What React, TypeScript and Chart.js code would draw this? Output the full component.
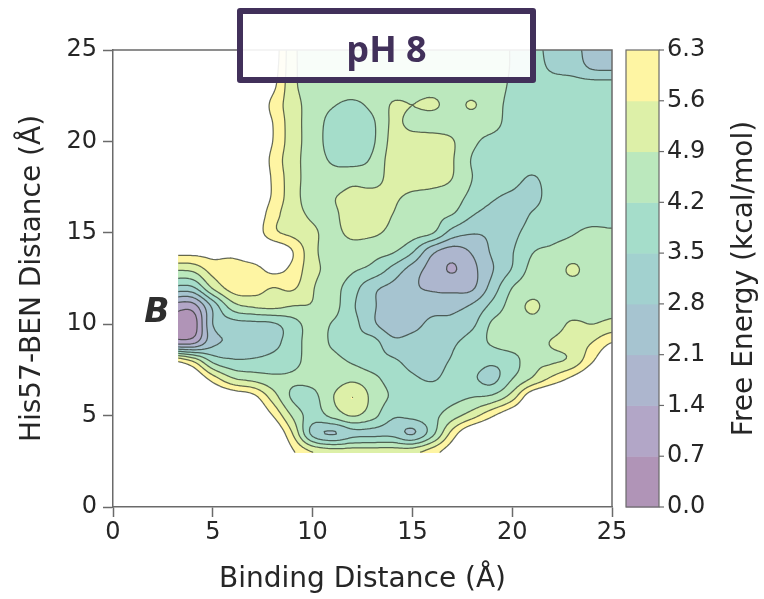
import { useEffect, useRef } from "react";
import { Chart, registerables } from "chart.js";

Chart.register(...registerables);

// Free-energy surface (kcal/mol) on a 1 Å grid. Rows run from y = 25 Å down to y = 3 Å,
// columns from x = 3 Å to x = 25 Å. Values above 6.3 are unsampled / off-scale.
const xNodes = [3, 4, 5, 6, 7, 8, 9, 10, 11, 12, 13, 14, 15, 16, 17, 18, 19, 20, 21, 22, 23, 24, 25];
const yNodes = [25, 24, 23, 22, 21, 20, 19, 18, 17, 16, 15, 14, 13, 12, 11, 10, 9, 8, 7, 6, 5, 4, 3];
const energyRows: number[][] = [
  [7.2, 7.2, 7.2, 7.2, 7.2, 6.8, 5.1, 4.6, 4.5, 4.5, 4.6, 4.6, 4.6, 4.6, 4.5, 4.5, 4.5, 4.15, 3.75, 3.3, 3.0, 2.6, 2.5],
  [7.2, 7.2, 7.2, 7.2, 7.2, 6.7, 5.1, 4.6, 4.5, 4.5, 4.55, 4.6, 4.6, 4.6, 4.55, 4.5, 4.5, 4.15, 3.85, 3.4, 3.2, 2.75, 2.7],
  [7.2, 7.2, 7.2, 7.2, 7.2, 6.5, 5.1, 4.6, 4.5, 4.45, 4.5, 4.6, 4.6, 4.65, 4.6, 4.55, 4.5, 4.1, 4.0, 3.9, 3.9, 3.9, 3.9],
  [7.2, 7.2, 7.2, 7.2, 7.2, 6.1, 5.2, 4.6, 4.25, 4.1, 4.35, 4.95, 4.9, 5.0, 4.7, 4.95, 4.5, 4.0, 3.95, 3.95, 3.95, 3.95, 3.95],
  [7.2, 7.2, 7.2, 7.2, 7.2, 6.3, 5.2, 4.6, 3.95, 3.85, 4.1, 5.0, 4.7, 4.6, 4.6, 4.55, 4.45, 3.9, 3.85, 3.85, 3.9, 3.9, 3.9],
  [7.2, 7.2, 7.2, 7.2, 7.2, 6.3, 5.2, 4.6, 3.9, 3.85, 4.1, 5.1, 5.2, 5.2, 4.95, 4.35, 4.0, 3.85, 3.8, 3.85, 3.9, 3.9, 3.9],
  [7.2, 7.2, 7.2, 7.2, 7.2, 6.1, 5.15, 4.6, 4.1, 3.95, 4.3, 5.2, 5.3, 5.3, 4.95, 4.15, 3.9, 3.8, 3.8, 3.85, 3.9, 3.9, 3.9],
  [7.2, 7.2, 7.2, 7.2, 7.2, 6.2, 5.2, 4.6, 4.5, 4.7, 4.6, 5.15, 5.2, 5.15, 4.9, 4.2, 3.85, 3.7, 3.45, 3.75, 3.85, 3.9, 3.9],
  [7.2, 7.2, 7.2, 7.2, 7.2, 6.2, 5.2, 4.6, 4.85, 5.05, 5.1, 5.0, 4.8, 4.7, 4.55, 4.0, 3.6, 3.4, 3.3, 3.75, 3.8, 3.85, 3.85],
  [7.2, 7.2, 7.2, 7.2, 7.0, 5.9, 5.2, 4.8, 4.8, 5.15, 5.1, 4.9, 4.6, 4.4, 4.2, 3.55, 3.25, 3.15, 3.55, 3.8, 3.9, 3.9, 3.9],
  [7.2, 7.2, 7.2, 7.2, 6.9, 5.8, 5.4, 5.0, 4.75, 5.05, 5.0, 4.75, 4.5, 4.25, 3.2, 2.85, 2.95, 3.3, 3.8, 4.0, 4.15, 4.35, 4.3],
  [6.6, 6.6, 6.6, 6.6, 7.0, 7.0, 6.3, 5.1, 4.6, 4.6, 4.45, 4.3, 3.6, 2.3, 1.8, 2.2, 2.9, 3.45, 4.15, 4.3, 4.5, 4.6, 4.6],
  [5.0, 5.1, 5.9, 5.9, 6.0, 6.5, 6.1, 5.1, 4.7, 4.3, 4.0, 3.3, 2.5, 1.8, 1.35, 1.9, 2.75, 3.55, 4.4, 4.5, 5.0, 4.6, 4.6],
  [3.3, 3.4, 5.0, 5.9, 5.9, 5.6, 5.7, 4.95, 4.5, 3.8, 3.0, 2.6, 2.2, 2.0, 1.9, 2.0, 3.1, 4.2, 4.6, 4.6, 4.6, 4.7, 4.8],
  [1.1, 1.1, 3.0, 4.6, 5.0, 5.1, 4.9, 4.85, 4.5, 3.6, 2.95, 2.2, 2.45, 2.55, 2.6, 2.9, 3.7, 4.5, 5.0, 4.6, 4.5, 4.6, 4.7],
  [0.5, 0.3, 2.8, 3.2, 3.3, 3.4, 3.9, 4.5, 4.15, 3.75, 2.95, 2.4, 2.6, 2.95, 3.0, 3.35, 4.3, 4.5, 4.7, 4.6, 5.0, 4.9, 5.1],
  [1.1, 1.2, 2.6, 2.9, 3.1, 3.3, 3.85, 4.5, 4.1, 3.7, 3.75, 3.0, 3.05, 3.2, 3.4, 3.8, 4.3, 4.6, 4.6, 4.95, 5.2, 5.6, 6.3],
  [6.3, 5.5, 4.0, 3.6, 3.6, 3.75, 4.0, 4.45, 4.4, 4.1, 3.8, 3.6, 3.3, 3.3, 3.55, 3.8, 3.65, 3.9, 4.7, 4.8, 5.1, 6.2, 7.2],
  [7.5, 7.2, 6.0, 5.0, 4.7, 4.4, 4.3, 4.4, 4.5, 4.75, 4.4, 3.9, 3.6, 3.45, 3.7, 3.6, 3.3, 4.2, 5.0, 5.8, 6.5, 7.2, 7.5],
  [7.5, 7.5, 7.3, 7.0, 6.6, 5.3, 4.1, 4.0, 4.85, 5.6, 4.7, 4.1, 3.9, 3.9, 4.0, 4.2, 4.4, 5.3, 7.0, 7.5, 7.5, 7.5, 7.5],
  [7.5, 7.5, 7.5, 7.5, 7.3, 6.3, 4.8, 3.9, 4.4, 4.95, 4.45, 3.6, 3.7, 4.0, 4.6, 5.3, 6.2, 7.0, 7.5, 7.5, 7.5, 7.5, 7.5],
  [7.5, 7.5, 7.5, 7.5, 7.5, 7.2, 5.6, 3.3, 2.75, 3.3, 3.35, 3.3, 2.75, 4.0, 5.9, 7.2, 7.5, 7.5, 7.5, 7.5, 7.5, 7.5, 7.5],
  [7.5, 7.5, 7.5, 7.5, 7.5, 7.5, 6.4, 5.6, 5.3, 5.3, 5.3, 5.3, 5.4, 6.0, 6.8, 7.5, 7.5, 7.5, 7.5, 7.5, 7.5, 7.5, 7.5],
];

// Lower edges of the sampled window (Å)
const sampledXMin = 3.27;
const sampledYMin = 2.95;

// Contour levels (kcal/mol) and colour bar ticks
const levelEdges = [0, 0.7, 1.4, 2.1, 2.8, 3.5, 4.2, 4.9, 5.6, 6.3];
const colorbarTicks = [0, 0.7, 1.4, 2.1, 2.8, 3.5, 4.2, 4.9, 5.6, 6.3];
const axisTicks = [0, 5, 10, 15, 20, 25];
const viridisStops = ["#440154", "#472c7a", "#3b528b", "#2c728e", "#21918c", "#28ae80", "#5ec962", "#addc30", "#fde725"];

const titleText = "pH 8";
const basinLabel = "B";
const basinLabelAt = { x: 2.2, y: 10.6 };
const xTitle = "Binding Distance (Å)";
const yTitle = "His57-BEN Distance (Å)";
const colorbarTitle = "Free Energy (kcal/mol)";

const FILL_ALPHA = 0.42;
const INK = "#262626";
const SPINE = "#6a6a6a";
const FONT = "'DejaVu Sans', sans-serif";

function blendOnWhite(hex: string): number[] {
  const n = parseInt(hex.slice(1), 16);
  const rgb = [(n >> 16) & 255, (n >> 8) & 255, n & 255];
  return rgb.map((c) => Math.round(255 - (255 - c) * FILL_ALPHA));
}
const bandRGB = viridisStops.map(blendOnWhite);

function nodeValue(r: number, c: number): number {
  const rr = Math.max(0, Math.min(energyRows.length - 1, r));
  const cc = Math.max(0, Math.min(xNodes.length - 1, c));
  return energyRows[rr][cc];
}

function catmull(p0: number, p1: number, p2: number, p3: number, t: number): number {
  return 0.5 * (2 * p1 + (-p0 + p2) * t + (2 * p0 - 5 * p1 + 4 * p2 - p3) * t * t + (-p0 + 3 * p1 - 3 * p2 + p3) * t * t * t);
}

// Smooth (bicubic) reading of the gridded surface at (x, y) in Å
function energyAt(x: number, y: number): number {
  const gx = (x - xNodes[0]) / (xNodes[1] - xNodes[0]);
  const gy = (y - yNodes[0]) / (yNodes[1] - yNodes[0]);
  const c = Math.min(xNodes.length - 2, Math.max(0, Math.floor(gx)));
  const r = Math.min(yNodes.length - 2, Math.max(0, Math.floor(gy)));
  const tx = gx - c;
  const ty = gy - r;
  const col: number[] = [];
  for (let k = -1; k <= 2; k++) {
    col.push(catmull(nodeValue(r + k, c - 1), nodeValue(r + k, c), nodeValue(r + k, c + 1), nodeValue(r + k, c + 2), tx));
  }
  return catmull(col[0], col[1], col[2], col[3], ty);
}

function bandOf(v: number): number {
  for (let k = 1; k < levelEdges.length - 1; k++) {
    if (v < levelEdges[k]) return k - 1;
  }
  return levelEdges.length - 2;
}

const surfacePlugin = {
  id: "energySurface",
  beforeDatasetsDraw(chart: any) {
    const { ctx, chartArea: ca } = chart;
    const xs = chart.scales.x;
    const ys = chart.scales.y;
    const L = Math.floor(ca.left);
    const T = Math.floor(ca.top);
    const W = Math.ceil(ca.right) - L;
    const H = Math.ceil(ca.bottom) - T;
    const off = document.createElement("canvas");
    off.width = W;
    off.height = H;
    const octx = off.getContext("2d")!;
    const img = octx.createImageData(W, H);
    const topLevel = levelEdges[levelEdges.length - 1];
    for (let j = 0; j < H; j++) {
      const yv = ys.getValueForPixel(T + j + 0.5);
      if (yv < sampledYMin) continue;
      for (let i = 0; i < W; i++) {
        const xv = xs.getValueForPixel(L + i + 0.5);
        if (xv < sampledXMin) continue;
        const v = energyAt(xv, yv);
        if (v > topLevel) continue;
        const c = bandRGB[bandOf(v)];
        const o = (j * W + i) * 4;
        img.data[o] = c[0];
        img.data[o + 1] = c[1];
        img.data[o + 2] = c[2];
        img.data[o + 3] = 255;
      }
    }
    octx.putImageData(img, 0, 0);
    ctx.save();
    ctx.drawImage(off, L, T);

    // iso-lines by marching squares on a refined sampling of the same surface
    const px0 = xs.getPixelForValue(sampledXMin);
    const py0 = ys.getPixelForValue(sampledYMin);
    ctx.beginPath();
    ctx.rect(px0, ca.top, ca.right - px0, py0 - ca.top);
    ctx.clip();
    ctx.strokeStyle = "rgba(40,48,40,0.72)";
    ctx.lineWidth = 1.25;
    ctx.lineJoin = "round";
    ctx.lineCap = "round";
    const S = 8;
    const nx = (xNodes.length - 1) * S + 1;
    const ny = (yNodes.length - 1) * S + 1;
    const x0 = xNodes[0];
    const y0 = yNodes[yNodes.length - 1];
    const field = new Float64Array(nx * ny);
    for (let j = 0; j < ny; j++) {
      for (let i = 0; i < nx; i++) field[j * nx + i] = energyAt(x0 + i / S, y0 + j / S);
    }
    const P = (x: number, y: number) => [xs.getPixelForValue(x), ys.getPixelForValue(y)];
    for (const lev of levelEdges.slice(1)) {
      ctx.beginPath();
      for (let j = 0; j < ny - 1; j++) {
        for (let i = 0; i < nx - 1; i++) {
          const a = field[j * nx + i];
          const b = field[j * nx + i + 1];
          const c = field[(j + 1) * nx + i + 1];
          const d = field[(j + 1) * nx + i];
          const A = a >= lev, B = b >= lev, C = c >= lev, D = d >= lev;
          if (A === B && B === C && C === D) continue;
          const xi = x0 + i / S;
          const yj = y0 + j / S;
          const pts: (number[] | null)[] = [null, null, null, null];
          if (A !== B) pts[0] = [xi + (lev - a) / (b - a) / S, yj];
          if (B !== C) pts[1] = [xi + 1 / S, yj + (lev - b) / (c - b) / S];
          if (D !== C) pts[2] = [xi + (lev - d) / (c - d) / S, yj + 1 / S];
          if (A !== D) pts[3] = [xi, yj + (lev - a) / (d - a) / S];
          const segs: number[][][] = [];
          const present = pts.filter((p) => p) as number[][];
          if (present.length === 2) {
            segs.push([present[0], present[1]]);
          } else if (present.length === 4) {
            const centre = (a + b + c + d) / 4 >= lev;
            if (centre === A) {
              segs.push([pts[0]!, pts[1]!], [pts[2]!, pts[3]!]);
            } else {
              segs.push([pts[0]!, pts[3]!], [pts[1]!, pts[2]!]);
            }
          }
          for (const [p, q] of segs) {
            const [u1, v1] = P(p[0], p[1]);
            const [u2, v2] = P(q[0], q[1]);
            ctx.moveTo(u1, v1);
            ctx.lineTo(u2, v2);
          }
        }
      }
      ctx.stroke();
    }
    ctx.restore();
  },
  afterDraw(chart: any) {
    const { ctx, chartArea: ca } = chart;
    const xs = chart.scales.x;
    const ys = chart.scales.y;
    const cb = chart.scales.cb;
    ctx.save();

    // top and right spines
    ctx.strokeStyle = SPINE;
    ctx.lineWidth = 1.5;
    ctx.beginPath();
    ctx.moveTo(ca.left, ca.top);
    ctx.lineTo(ca.right, ca.top);
    ctx.lineTo(ca.right, ca.bottom);
    ctx.stroke();

    // colour bar
    const barL = cb.left + 14;
    const barR = cb.left + 47;
    for (let k = 0; k < levelEdges.length - 1; k++) {
      const yLo = cb.getPixelForValue(levelEdges[k]);
      const yHi = cb.getPixelForValue(levelEdges[k + 1]);
      const c = bandRGB[k];
      ctx.fillStyle = `rgb(${c[0]},${c[1]},${c[2]})`;
      ctx.fillRect(barL, yHi, barR - barL, yLo - yHi + 0.5);
    }
    ctx.strokeStyle = SPINE;
    ctx.lineWidth = 1.2;
    ctx.strokeRect(barL, cb.top, barR - barL, cb.bottom - cb.top);
    for (const v of colorbarTicks) {
      const y = cb.getPixelForValue(v);
      ctx.beginPath();
      ctx.moveTo(barR, y);
      ctx.lineTo(barR + 5, y);
      ctx.stroke();
    }

    // colour bar title, reading upward
    ctx.fillStyle = INK;
    ctx.font = `28px ${FONT}`;
    ctx.textAlign = "center";
    ctx.textBaseline = "middle";
    ctx.save();
    ctx.translate(cb.left + 133, (cb.top + cb.bottom) / 2);
    ctx.rotate(-Math.PI / 2);
    ctx.fillText(colorbarTitle, 0, 0);
    ctx.restore();

    // basin tag
    ctx.fillStyle = "#2e2e2e";
    ctx.font = `italic bold 33px ${FONT}`;
    ctx.fillText(basinLabel, xs.getPixelForValue(basinLabelAt.x), ys.getPixelForValue(basinLabelAt.y));

    // title box
    const bx = 240, by = 11, bw = 293, bh = 69;
    ctx.fillStyle = "rgba(255,255,255,0.9)";
    ctx.fillRect(bx, by, bw, bh);
    ctx.strokeStyle = "#41305a";
    ctx.lineWidth = 6;
    ctx.lineJoin = "round";
    ctx.strokeRect(bx, by, bw, bh);
    ctx.fillStyle = "#41305a";
    ctx.font = `bold 36px 'Open Sans', 'DejaVu Sans', sans-serif`;
    ctx.textBaseline = "alphabetic";
    ctx.fillText(titleText, bx + bw / 2, 62);
    ctx.restore();
  },
};

export default function App() {
  const canvasRef = useRef<HTMLCanvasElement | null>(null);

  useEffect(() => {
    const canvas = canvasRef.current;
    if (!canvas) return;
    const tickFont = { family: FONT, size: 24 };
    const titleFont = { family: FONT, size: 28 };
    const chart = new Chart(canvas, {
      type: "scatter",
      data: { datasets: [{ data: [], pointRadius: 0 }] },
      options: {
        responsive: false,
        animation: false,
        devicePixelRatio: 1,
        events: [],
        layout: { padding: { left: 0, right: 0, top: 50, bottom: 0 } },
        plugins: { legend: { display: false }, tooltip: { enabled: false } },
        scales: {
          x: {
            type: "linear",
            position: "bottom",
            min: 0,
            max: 25,
            afterFit: (s: any) => {
              s.height = 92;
            },
            afterBuildTicks: (s: any) => {
              s.ticks = axisTicks.map((v) => ({ value: v }));
            },
            ticks: { font: tickFont, color: INK, padding: 1, maxRotation: 0 },
            grid: { drawOnChartArea: false, tickLength: 10, tickColor: SPINE, tickWidth: 1.5 },
            border: { color: SPINE, width: 1.5 },
            title: { display: true, text: xTitle, font: titleFont, color: INK, padding: { top: 0, bottom: 2 } },
          },
          y: {
            type: "linear",
            position: "left",
            min: 0,
            max: 25,
            afterFit: (s: any) => {
              s.width = 113;
            },
            afterBuildTicks: (s: any) => {
              s.ticks = axisTicks.map((v) => ({ value: v }));
            },
            ticks: { font: tickFont, color: INK, padding: 6 },
            grid: { drawOnChartArea: false, tickLength: 10, tickColor: SPINE, tickWidth: 1.5 },
            border: { color: SPINE, width: 1.5 },
            title: { display: true, text: yTitle, font: titleFont, color: INK, padding: { top: 16, bottom: 0 } },
          },
          cb: {
            type: "linear",
            position: "right",
            min: 0,
            max: 6.3,
            afterFit: (s: any) => {
              s.width = 152;
            },
            afterBuildTicks: (s: any) => {
              s.ticks = colorbarTicks.map((v) => ({ value: v }));
            },
            ticks: {
              font: tickFont,
              color: INK,
              padding: 0,
              callback: (v: any) => Number(v).toFixed(1),
            },
            // tick marks are painted beside the colour bar; this length only offsets the labels
            grid: { display: false, drawTicks: true, tickLength: 55 },
            border: { display: false },
          },
        },
      } as any,
      plugins: [surfacePlugin],
    });
    return () => chart.destroy();
  }, []);

  return (
    <div style={{ position: "absolute", left: 0, top: 0, width: 764, height: 599, background: "#ffffff" }}>
      <canvas ref={canvasRef} width={764} height={599} style={{ display: "block" }} />
    </div>
  );
}
